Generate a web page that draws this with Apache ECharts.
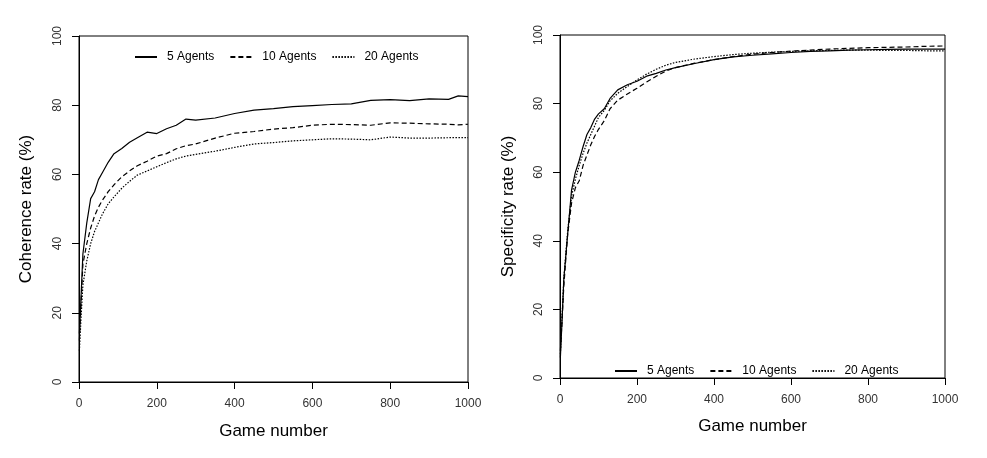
<!DOCTYPE html>
<html>
<head>
    <meta charset="utf-8">
    <title>Coherence and specificity rates</title>
    <script src="https://cdn.jsdelivr.net/npm/echarts@6/dist/echarts.min.js"></script>
    <style>
        body { margin: 0; background: #fff; }
    </style>
</head>
<body>
    <div id="main" style="width: 987px;height:458px;"></div>

    <script type="text/javascript">
        var seriesNames = ['5 Agents', '10 Agents', '20 Agents'];

        // left panel: coherence rate (%)
        var gamesLeft = [1, 5, 10, 20, 30, 40, 50, 60, 75, 90, 110, 130, 150, 175, 200, 225, 250, 275,
            300, 350, 400, 450, 500, 550, 600, 650, 700, 750, 800, 850, 900, 950, 975, 1000];
        var coh5 = [14, 24, 37, 46, 53, 55, 58.5, 60.5, 63.5, 66, 67.5, 69.3, 70.6, 72.2, 71.8, 73.2, 74.2, 76,
            75.7, 76.3, 77.6, 78.6, 79, 79.6, 79.9, 80.2, 80.4, 81.4, 81.6, 81.3, 81.8, 81.7, 82.7, 82.5];
        var coh10 = [12, 22, 34, 40, 44.5, 48, 50.5, 52.5, 55, 57, 59.3, 61, 62.5, 63.8, 65.3, 66, 67.4, 68.3,
            68.8, 70.5, 71.9, 72.4, 73.1, 73.5, 74.2, 74.5, 74.4, 74.2, 74.9, 74.8, 74.6, 74.5, 74.3, 74.5];
        var coh20 = [9, 18, 28, 35, 40, 43.5, 46, 48.5, 51.5, 53.5, 56, 58, 59.8, 61, 62.2, 63.4, 64.5, 65.3,
            65.8, 66.7, 67.8, 68.8, 69.2, 69.7, 70, 70.3, 70.2, 70, 70.8, 70.5, 70.5, 70.6, 70.6, 70.6];

        // right panel: specificity rate (%)
        var gamesRight = [1, 5, 10, 20, 30, 40, 50, 60, 70, 80, 90, 100, 115, 130, 150, 175, 200, 225, 250, 275,
            300, 350, 400, 450, 500, 550, 600, 650, 700, 750, 800, 850, 900, 950, 1000];
        var spec5 = [6, 16, 29, 42, 54.8, 60, 63.5, 67.5, 71, 73, 75.5, 77, 78.5, 81.5, 84, 85.5, 86.5, 88, 88.8, 89.8,
            90.5, 91.7, 92.8, 93.6, 94.1, 94.5, 94.9, 95.2, 95.4, 95.6, 95.7, 95.8, 95.9, 95.9, 95.9];
        var spec10 = [8, 16, 27, 42, 51, 55.5, 57.5, 62, 65, 68, 70.5, 72.5, 75, 78.5, 81, 82.8, 84.5, 86.3, 88, 89.5,
            90.5, 91.8, 92.8, 93.7, 94.4, 94.9, 95.3, 95.6, 95.9, 96.1, 96.3, 96.4, 96.5, 96.7, 96.8];
        var spec20 = [7, 17, 29, 43, 53, 58, 62, 65.5, 68.5, 71, 73.5, 76, 78, 80.8, 83, 85, 86.9, 88.6, 90, 91.2,
            92, 93, 93.7, 94.3, 94.7, 95, 95.2, 95.4, 95.5, 95.6, 95.6, 95.5, 95.5, 95.4, 95.4];

        var xTicks = [0, 200, 400, 600, 800, 1000];
        var yTicks = [0, 20, 40, 60, 80, 100];

        var dashTypes = ['solid', [5, 3], [1.5, 1.5]];
        var fontName = 'Liberation Sans, Arial, sans-serif';

        function zip(xs, ys) {
            return xs.map(function (x, i) { return [x, ys[i]]; });
        }

        function xAxisFor(gridIndex, nameGap) {
            return {
                gridIndex: gridIndex,
                type: 'value',
                min: xTicks[0],
                max: xTicks[xTicks.length - 1],
                interval: 200,
                name: 'Game number',
                nameLocation: 'middle',
                nameGap: nameGap,
                nameTextStyle: { fontFamily: fontName, fontSize: 17, color: '#000' },
                axisLine: { show: true, onZero: false, lineStyle: { color: '#000', width: 1 } },
                axisTick: { show: true, length: 7, lineStyle: { color: '#000' } },
                axisLabel: {
                    margin: 16, fontFamily: fontName, fontSize: 12, color: '#333',
                    formatter: function (v) { return String(v); }
                },
                splitLine: { show: false }
            };
        }

        function yAxisFor(gridIndex, title, nameGap) {
            return {
                gridIndex: gridIndex,
                type: 'value',
                min: yTicks[0],
                max: yTicks[yTicks.length - 1],
                interval: 20,
                name: title,
                nameLocation: 'middle',
                nameGap: nameGap,
                nameTextStyle: { fontFamily: fontName, fontSize: 17, color: '#000' },
                axisLine: { show: true, onZero: false, lineStyle: { color: '#000', width: 1 } },
                axisTick: { show: true, length: 7, lineStyle: { color: '#000' } },
                axisLabel: { rotate: 90, margin: 15, fontFamily: fontName, fontSize: 12, color: '#333' },
                splitLine: { show: false }
            };
        }

        function lineSeries(name, idx, gridIndex, data) {
            return {
                name: name,
                type: 'line',
                xAxisIndex: gridIndex,
                yAxisIndex: gridIndex,
                data: data,
                showSymbol: false,
                symbol: 'none',
                animation: false,
                lineStyle: { color: '#000', width: 1.2, type: dashTypes[idx] },
                itemStyle: { color: '#000' }
            };
        }

        function legendFor(left, top) {
            return {
                data: seriesNames,
                left: left,
                top: top,
                orient: 'horizontal',
                itemWidth: 22,
                itemHeight: 12,
                itemGap: 15,
                // hide the little symbol, keep the line sample
                itemStyle: { color: 'rgba(0,0,0,0)', borderWidth: 0, opacity: 0 },
                textStyle: { fontFamily: fontName, fontSize: 12, color: '#000', padding: [0, 0, 0, 5] },
                selectedMode: false
            };
        }

        var myChart = echarts.init(document.getElementById('main'));

        var option = {
            backgroundColor: '#fff',
            animation: false,
            grid: [
                { left: 79, right: 519, top: 36, bottom: 76, show: true, borderColor: '#000', borderWidth: 1 },
                { left: 560, right: 42, top: 35, bottom: 80, show: true, borderColor: '#000', borderWidth: 1 }
            ],
            legend: [legendFor(129, 46), legendFor(609, 360)],
            xAxis: [xAxisFor(0, 41), xAxisFor(1, 40)],
            yAxis: [yAxisFor(0, 'Coherence rate (%)', 44), yAxisFor(1, 'Specificity rate (%)', 43)],
            series: [
                lineSeries(seriesNames[0], 0, 0, zip(gamesLeft, coh5)),
                lineSeries(seriesNames[1], 1, 0, zip(gamesLeft, coh10)),
                lineSeries(seriesNames[2], 2, 0, zip(gamesLeft, coh20)),
                lineSeries(seriesNames[0], 0, 1, zip(gamesRight, spec5)),
                lineSeries(seriesNames[1], 1, 1, zip(gamesRight, spec10)),
                lineSeries(seriesNames[2], 2, 1, zip(gamesRight, spec20))
            ]
        };

        myChart.setOption(option);
    </script>
</body>
</html>
